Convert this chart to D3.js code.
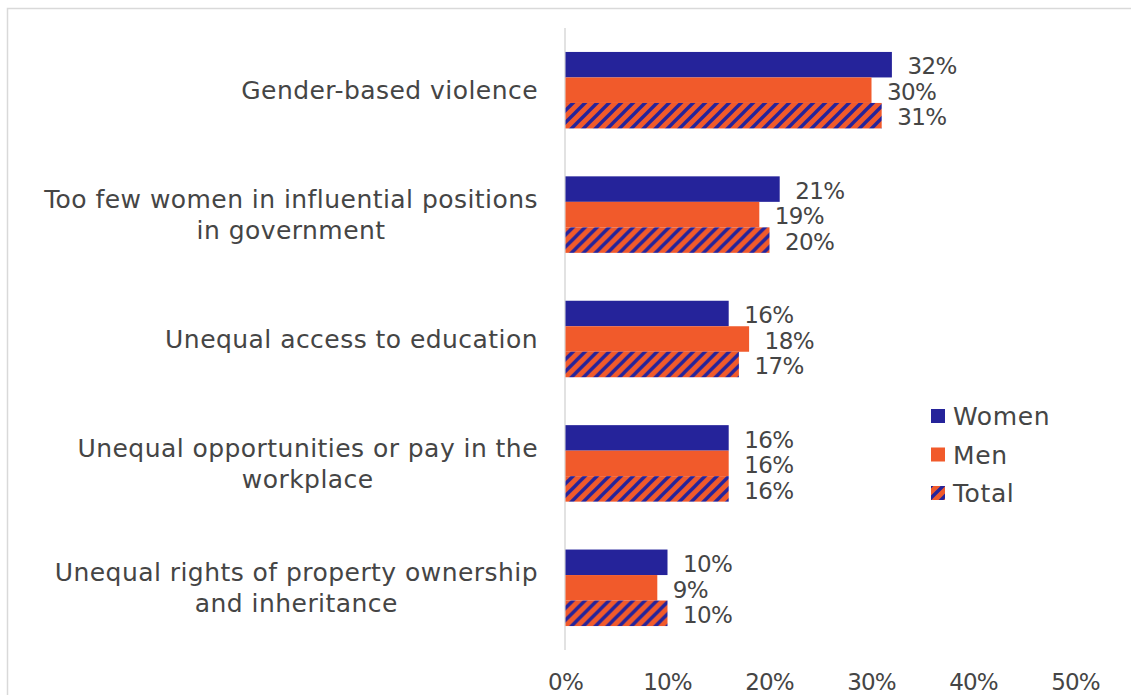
<!DOCTYPE html>
<html>
<head>
<meta charset="utf-8">
<script src="https://cdn.jsdelivr.net/npm/d3@7"></script>
<style>
  html, body { margin: 0; padding: 0; background: #fff; }
  svg { display: block; }
  text { font-family: "Century Gothic", "URW Gothic", "DejaVu Sans", sans-serif; fill: #454545; }
</style>
</head>
<body>
<svg id="chart" width="1131" height="695"></svg>
<script>
// Perceived main gender-equality issues, share of respondents by gender
const categories = [
  ["Gender-based violence"],
  ["Too few women in influential positions", "in government"],
  ["Unequal access to education"],
  ["Unequal opportunities or pay in the", "workplace"],
  ["Unequal rights of property ownership", "and inheritance"]
];
const seriesNames = ["Women", "Men", "Total"];
const women = [32, 21, 16, 16, 10];
const men   = [30, 19, 18, 16, 9];
const total = [31, 20, 17, 16, 10];
const xTicks = [0, 10, 20, 30, 40, 50];

const seriesValues = [women, men, total];
const colBlue = "#25239a", colOrange = "#f15a2b";

const svg = d3.select("#chart");

// hatched fill for the Total series
const defs = svg.append("defs");
const pat = defs.append("pattern")
  .attr("id", "hatch").attr("patternUnits", "userSpaceOnUse")
  .attr("width", 12).attr("height", 12);
pat.append("rect").attr("width", 12).attr("height", 12).attr("fill", colOrange);
pat.append("path")
  .attr("d", "M-3,3 L3,-3 M0,12 L12,0 M9,15 L15,9")
  .attr("stroke", colBlue).attr("stroke-width", 3.4);

const fills = [colBlue, colOrange, "url(#hatch)"];

// outer frame
svg.append("rect").attr("x", 7.5).attr("y", 8.5).attr("width", 1200).attr("height", 800)
  .attr("fill", "none").attr("stroke", "#d9d9d9").attr("stroke-width", 1.5);

const x = d3.scaleLinear().domain([0, 50]).range([565, 1075]);
const y = d3.scaleBand().domain(d3.range(categories.length)).range([28, 650])
  .paddingInner(0.385).paddingOuter(0.1925);
const ySub = d3.scaleBand().domain(d3.range(seriesNames.length)).range([0, y.bandwidth()]);

// value axis labels
const xAxis = d3.axisBottom(x).tickValues(xTicks).tickFormat(d => d + "%").tickSize(0).tickPadding(0);
const gx = svg.append("g").attr("transform", "translate(0,690)").call(xAxis);
gx.select(".domain").remove();
gx.selectAll("text").attr("font-size", 23).attr("fill", "#454545")
  .attr("dy", 0).attr("y", 0).attr("letter-spacing", -0.8)
  .style("font-family", null);

// category axis line
svg.append("line").attr("x1", x(0)).attr("x2", x(0)).attr("y1", 28).attr("y2", 650)
  .attr("stroke", "#d9d9d9").attr("stroke-width", 1.5);

// bars
const groups = svg.selectAll("g.cat").data(categories).join("g")
  .attr("class", "cat").attr("transform", (d, i) => `translate(0,${y(i)})`);

seriesValues.forEach((vals, s) => {
  groups.append("rect")
    .attr("x", x(0) + 0.5)
    .attr("y", (d, i) => ySub(s))
    .attr("width", (d, i) => x(vals[i]) - x(0))
    .attr("height", ySub.bandwidth())
    .attr("fill", fills[s]);
  groups.append("text")
    .attr("x", (d, i) => x(vals[i]) + 16)
    .attr("y", (d, i) => ySub(s) + ySub.bandwidth() / 2 + 1.5)
    .attr("dy", "0.36em")
    .attr("font-size", 23)
    .attr("letter-spacing", -0.6)
    .text((d, i) => vals[i] + "%");
});

// category labels: multi-line blocks are right-aligned, lines centred within the block
groups.each(function(lines, i) {
  const g = d3.select(this);
  const cy = y.bandwidth() / 2;
  const lh = 31;
  const texts = lines.map((ln, k) => g.append("text")
    .attr("y", cy + (k - (lines.length - 1) / 2) * lh)
    .attr("dy", "0.36em")
    .attr("font-size", 25)
    .attr("letter-spacing", 0.45)
    .attr("text-anchor", "middle")
    .text(ln));
  const w = d3.max(texts, t => t.node().getComputedTextLength());
  texts.forEach(t => t.attr("x", 538 - w / 2));
});

// legend
const legend = svg.append("g").attr("transform", "translate(931,409)");
seriesNames.forEach((n, s) => {
  const g = legend.append("g").attr("transform", `translate(0,${s * 38.5})`);
  g.append("rect").attr("width", 14).attr("height", 14).attr("fill", fills[s]);
  g.append("text").attr("x", 22).attr("y", 7).attr("dy", "0.36em")
    .attr("font-size", 25).attr("letter-spacing", 0.6).text(n);
});
</script>
</body>
</html>
